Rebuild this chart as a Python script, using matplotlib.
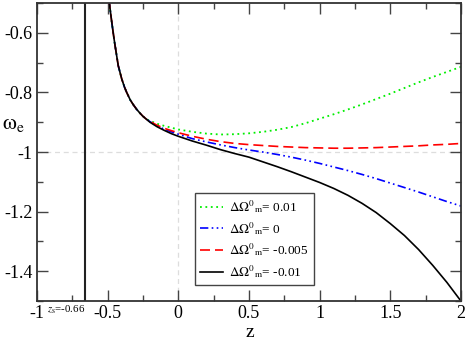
"""Dark energy equation of state w_e(z) for several Delta Omega_m^0 offsets."""

import matplotlib

matplotlib.use("Agg")
import matplotlib.pyplot as plt
import matplotlib.transforms as mtransforms
from matplotlib.ticker import FuncFormatter, MultipleLocator

plt.rcParams.update(
    {
        "font.family": "Liberation Serif",
        "mathtext.fontset": "stix",
        "axes.unicode_minus": False,
    }
)

# redshift grid
Z = [-0.495, -0.488, -0.48, -0.47, -0.46, -0.45, -0.44, -0.425, -0.40, -0.38,
     -0.365, -0.34, -0.32, -0.294, -0.27, -0.25, -0.225, -0.20, -0.15, -0.10,
     -0.05, 0.0, 0.1, 0.2, 0.3, 0.4, 0.5, 0.6, 0.7, 0.8, 0.9, 1.0, 1.1, 1.2,
     1.3, 1.4, 1.5, 1.6, 1.7, 1.8, 1.9, 2.0]

# shared steep branch near the pole (z < -0.2)
W_POLE = [-0.47, -0.50, -0.53, -0.567, -0.602, -0.635, -0.665, -0.71, -0.755,
          -0.783, -0.80, -0.825, -0.84, -0.857, -0.87, -0.88, -0.89]

W_P001 = W_POLE + [-0.895, -0.905, -0.912, -0.918, -0.924, -0.932, -0.938,
                   -0.941, -0.940, -0.937, -0.932, -0.925, -0.916, -0.903,
                   -0.888, -0.873, -0.857, -0.840, -0.822, -0.804, -0.785,
                   -0.766, -0.748, -0.731, -0.714]
W_0 = W_POLE + [-0.898, -0.912, -0.923, -0.932, -0.940, -0.955, -0.966,
                -0.976, -0.985, -0.993, -1.0, -1.008, -1.017, -1.027, -1.038,
                -1.050, -1.062, -1.075, -1.089, -1.104, -1.119, -1.134,
                -1.150, -1.166, -1.181]
W_M0005 = W_POLE + [-0.897, -0.910, -0.920, -0.928, -0.935, -0.947, -0.957,
                    -0.965, -0.971, -0.975, -0.978, -0.981, -0.983, -0.985,
                    -0.986, -0.987, -0.987, -0.986, -0.985, -0.983, -0.981,
                    -0.979, -0.976, -0.974, -0.971]
W_M001 = W_POLE + [-0.90, -0.915, -0.927, -0.938, -0.947, -0.963, -0.977,
                   -0.992, -1.005, -1.017, -1.033, -1.049, -1.066, -1.084,
                   -1.102, -1.122, -1.145, -1.172, -1.203, -1.240, -1.280,
                   -1.327, -1.380, -1.437, -1.500]

LABELS = [
    r"$\Delta\Omega^{0}{}_{\rm m}$= 0.01",
    r"$\Delta\Omega^{0}{}_{\rm m}$= 0",
    r"$\Delta\Omega^{0}{}_{\rm m}$= -0.005",
    r"$\Delta\Omega^{0}{}_{\rm m}$= -0.01",
]
Z_S = -0.66

fig = plt.figure(figsize=(4.68, 3.41), dpi=100)
ax = fig.add_axes([0.079, 0.117, 0.906, 0.874])

# reference lines
ax.axhline(-1.0, color="#dddddd", lw=0.9, dashes=(4, 3), zorder=0)
ax.axvline(0.0, color="#dddddd", lw=0.9, dashes=(4, 3), zorder=0)
ax.axvline(Z_S, color="#222222", lw=1.5, zorder=1)

ax.plot(Z, W_P001, color="#00ee00", lw=1.3, dashes=(1, 2), label=LABELS[0])
ax.plot(Z, W_0, color="#0000ff", lw=1.2, dashes=(5, 2, 1, 2, 1, 2), label=LABELS[1])
ax.plot(Z, W_M0005, color="#ff0000", lw=1.2, dashes=(6, 3), label=LABELS[2])
ax.plot(Z, W_M001, color="black", lw=1.2, label=LABELS[3])

ax.set_xlim(-1, 2)
ax.set_ylim(-1.5, -0.5)
ax.xaxis.set_major_locator(MultipleLocator(0.5))
ax.xaxis.set_minor_locator(MultipleLocator(0.25))
ax.yaxis.set_major_locator(MultipleLocator(0.2))
ax.yaxis.set_minor_locator(MultipleLocator(0.1))
fmt = FuncFormatter(lambda v, _: f"{v:g}")
ax.xaxis.set_major_formatter(fmt)
ax.yaxis.set_major_formatter(fmt)
ax.tick_params(which="both", direction="in", top=True, right=True,
               color="#444444", labelsize=13)
ax.tick_params(which="major", length=8, width=1.0, pad=3)
ax.tick_params(which="minor", length=4, width=1.0)
for sp in ax.spines.values():
    sp.set_linewidth(1.3)
    sp.set_color("#333333")

fig.text(0.534, 0.013, "z", fontsize=14, ha="center", va="baseline")
fig.text(0.005, 0.635, r"$\mathrm{\omega}_{\rm e}$", fontsize=16, ha="left", va="center")

trans = mtransforms.blended_transform_factory(ax.transData, ax.transAxes)
ax.text(-0.795, -0.03, r"$z_{\rm s}$=-0.66", transform=trans, fontsize=7.8,
        ha="center", va="center")

leg = ax.legend(loc="upper left", bbox_to_anchor=(0.373, 0.362), borderaxespad=0,
                fontsize=9.5, fancybox=False, framealpha=1, edgecolor="#444444",
                handlelength=1.7, handletextpad=0.5, labelspacing=0.35,
                borderpad=0.4)
leg.get_frame().set_linewidth(1.0)

fig.savefig("out.png", dpi=100)
